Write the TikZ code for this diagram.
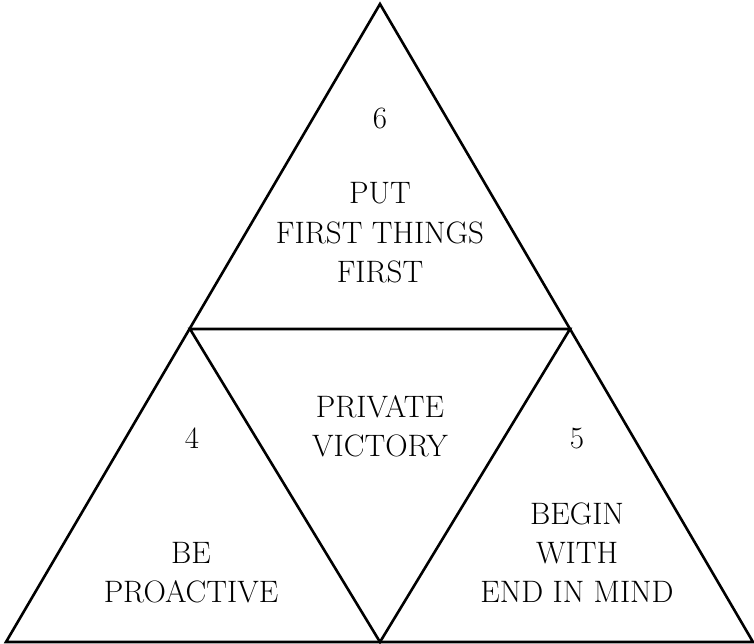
\documentclass[tikz,border=0pt]{standalone}
\begin{document}
\begin{tikzpicture}[x=1pt,y=-1pt,
  edge/.style={line width=2.6pt,line join=miter},
  lbl/.style={font=\fontsize{31}{39}\selectfont,align=center,inner sep=0pt,anchor=base}]
\useasboundingbox (0,0) rectangle (754,644);
\coordinate (A) at (380,4);
\coordinate (BL) at (6,642);
\coordinate (BR) at (753,642);
\coordinate (ML) at (190,329);
\coordinate (MR) at (570,329);
\coordinate (MB) at (380,642);
\draw[edge] (A) -- (BR) -- (BL) -- cycle;
\draw[edge] (ML) -- (MR) -- (MB) -- cycle;
\node[lbl] (n6) at (380,129) {6};
\node[lbl] (t6) at (380,282) {PUT\\FIRST THINGS\\FIRST};
\node[lbl] (tc) at (380,456) {PRIVATE\\VICTORY};
\node[lbl] (n4) at (192,448) {4};
\node[lbl] (n5) at (577,448) {5};
\node[lbl] (t4) at (191,602) {BE\\PROACTIVE};
\node[lbl] (t5) at (577,602) {BEGIN\\WITH\\END IN MIND};
\end{tikzpicture}
\end{document}
